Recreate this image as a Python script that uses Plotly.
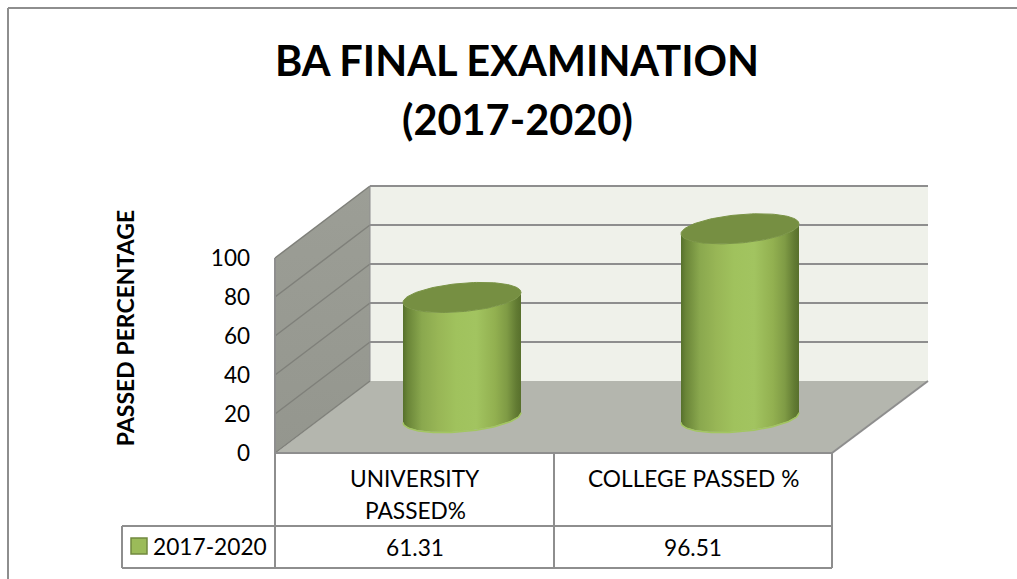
import numpy as np
import plotly.graph_objects as go

# ---- data ----
categories = ["UNIVERSITY<br>PASSED%", "COLLEGE PASSED %"]
values = [61.31, 96.51]
series_name = "2017-2020"
y_ticks = [0, 20, 40, 60, 80, 100]
title_lines = ["BA FINAL EXAMINATION", "(2017-2020)"]
y_title = "PASSED PERCENTAGE"

# ---- layout constants ----
W, H = 1017, 579
Y0_PX, PX_PER_UNIT = 453.0, 1.95     # value 0 on the front edge, scale
DX, DY = 94.0, 72.0                  # oblique depth of the 3D box
X_L, X_M, X_R = 276.0, 554.0, 832.0  # table / floor front edge
RW = 59.0                            # cylinder half width
TILT, MINOR = 5.0, 14.2              # ellipse tilt and minor half-height (px)
FONT = "Lato"
LINE = "#8e8e8e"
AXIS_TOP_PX = 77                     # top of the y axis domain


def v(py):
    """pixel height -> value on the y axis"""
    return (Y0_PX - py) / PX_PER_UNIT


def pv(py):
    return 1 - py / H


du = DY / PX_PER_UNIT
cat_x = [(X_L + X_M) / 2, (X_M + X_R) / 2]
ymax = y_ticks[-1]

fig = go.Figure()


def poly(xs, ys, color):
    fig.add_trace(go.Scatter(x=xs, y=ys, mode="lines", fill="toself", fillcolor=color,
                             line=dict(width=0), hoverinfo="skip", showlegend=False))


def line(xs, ys, color=LINE, width=2):
    fig.add_trace(go.Scatter(x=xs, y=ys, mode="lines", line=dict(color=color, width=width),
                             hoverinfo="skip", showlegend=False))


# back wall
poly([X_L + DX, X_R + DX + 2, X_R + DX + 2, X_L + DX], [du, du, du + ymax, du + ymax], "#eff1ea")
# left wall
fig.add_trace(go.Scatter(x=[X_L - 1, X_L + DX, X_L + DX, X_L - 1], y=[0, du, du + ymax, ymax],
                         mode="lines", fill="toself", line=dict(width=0), hoverinfo="skip", showlegend=False,
                         fillgradient=dict(type="vertical",
                                           colorscale=[[0, "#94968e"], [1, "#9c9e96"]])))
# floor
poly([X_L, X_R, X_R + DX + 2, X_L + DX], [0, 0, du, du], "#b4b6ae")

# gridlines on the back and left walls
for t in y_ticks:
    if t > 0:
        line([X_L + DX, X_R + DX + 2], [du + t, du + t], width=2)
    line([X_L - 1, X_L + DX], [t, du + t], color="#7f807a", width=1.5)
line([X_L - 1, X_L - 1], [0, ymax], width=2)
line([X_L + DX, X_L + DX], [du, du + ymax], width=1)
line([X_R, X_R + DX + 2], [0, du], width=2)

# cylinders
t_low = np.linspace(np.pi, 2 * np.pi, 60)
t_all = np.linspace(0, 2 * np.pi, 120)
body_scale = [[0, "#56702c"], [0.04, "#6a8538"], [0.16, "#8aa84e"], [0.3, "#98b656"],
              [0.45, "#a0c25d"], [0.62, "#a2c460"], [0.78, "#92b050"], [0.88, "#7f9b45"],
              [0.96, "#627b33"], [1, "#58702c"]]
for cx0, val in zip(cat_x, values):
    cx = cx0 + DX / 2
    base = du / 2
    top = base + val
    xl = cx + RW * np.cos(t_low)
    e_low = (TILT * np.cos(t_low) + MINOR * np.sin(t_low)) / PX_PER_UNIT
    bx = np.concatenate([xl, xl[::-1]])
    by = np.concatenate([base + e_low, (top + e_low)[::-1]])
    fig.add_trace(go.Scatter(x=bx, y=by, mode="lines", fill="toself", line=dict(width=0),
                             hoverinfo="skip", showlegend=False,
                             fillgradient=dict(type="horizontal", colorscale=body_scale)))
    line(xl, base + e_low - 0.3, color="#a3c661", width=1.5)
    xa = cx + RW * np.cos(t_all)
    ya = top + (TILT * np.cos(t_all) + MINOR * np.sin(t_all)) / PX_PER_UNIT
    fig.add_trace(go.Scatter(x=xa, y=ya, mode="lines", fill="toself", fillcolor="#768f42",
                             line=dict(color="#7a9446", width=1), hoverinfo="skip", showlegend=False))

# table lines
shapes = []
for x0, y0, x1, y1 in [(X_L, 453, X_R, 453), (122, 526, X_R, 526), (122, 568, X_R, 568),
                       (122, 526, 122, 568), (X_L - 1, 453, X_L - 1, 568), (X_M, 453, X_M, 568),
                       (X_R, 453, X_R, 568)]:
    shapes.append(dict(type="line", xref="x", yref="paper", x0=x0, x1=x1, y0=pv(y0), y1=pv(y1),
                       line=dict(color=LINE, width=2), layer="above"))
# chart border
shapes.append(dict(type="line", xref="x", yref="paper", x0=8, x1=W, y0=pv(8), y1=pv(8),
                   line=dict(color=LINE, width=2)))
shapes.append(dict(type="line", xref="x", yref="paper", x0=8, x1=8, y0=pv(8), y1=0,
                   line=dict(color=LINE, width=2)))
# legend key
shapes.append(dict(type="rect", xref="x", yref="paper", x0=131, x1=147, y0=pv(538), y1=pv(554),
                   fillcolor="#9bbb59", line=dict(color="#71893f", width=1.5), layer="above"))

# table text and second title line
ann = []
TXT = dict(family=FONT, size=22.7, color="#000000")
for cx0, lab, val in zip(cat_x, categories, values):
    for i, part in enumerate(lab.split("<br>")):
        ann.append(dict(x=cx0, y=pv(478 + 32 * i), xref="x", yref="paper", text=part, showarrow=False,
                        font=TXT, xanchor="center", yanchor="middle"))
    ann.append(dict(x=cx0, y=pv(547), xref="x", yref="paper", text=f"{val:.2f}", showarrow=False,
                    font=TXT, xanchor="center", yanchor="middle"))
ann.append(dict(x=153, y=pv(546), xref="x", yref="paper", text=series_name, showarrow=False,
                font=TXT, xanchor="left", yanchor="middle", xshift=-2))
ann.append(dict(x=517, y=pv(119), xref="x", yref="paper", text=f"<b>{title_lines[1]}</b>", showarrow=False,
                font=dict(family=FONT, size=41.5, color="#000000"), xanchor="center", yanchor="middle"))

fig.update_layout(
    width=W, height=H, margin=dict(l=0, r=0, t=0, b=0),
    paper_bgcolor="#ffffff", plot_bgcolor="#ffffff",
    font=dict(family=FONT, color="#000000"),
    showlegend=False,
    title=dict(text=f"<b>{title_lines[0]}</b>", x=517 / W, xanchor="center", y=pv(61), yanchor="middle",
               font=dict(family=FONT, size=41.5, color="#000000")),
    xaxis=dict(range=[0, W], visible=False, fixedrange=True),
    yaxis=dict(domain=[0, pv(AXIS_TOP_PX)], range=[v(H), v(AXIS_TOP_PX)], tickvals=y_ticks,
               ticktext=[str(t) for t in y_ticks],
               anchor="free", position=(X_L - 1) / W, side="left", showgrid=False, zeroline=False,
               showline=False, ticks="", ticklabelstandoff=25, tickfont=dict(family=FONT, size=22.5, color="#000000"),
               title=dict(text=f"<b>{y_title}</b>", font=dict(family=FONT, size=23, color="#000000"), standoff=68),
               fixedrange=True),
    shapes=shapes, annotations=ann,
)

fig.write_html("out.html", post_script="document.body.style.margin='0';", config=dict(displayModeBar=False))
